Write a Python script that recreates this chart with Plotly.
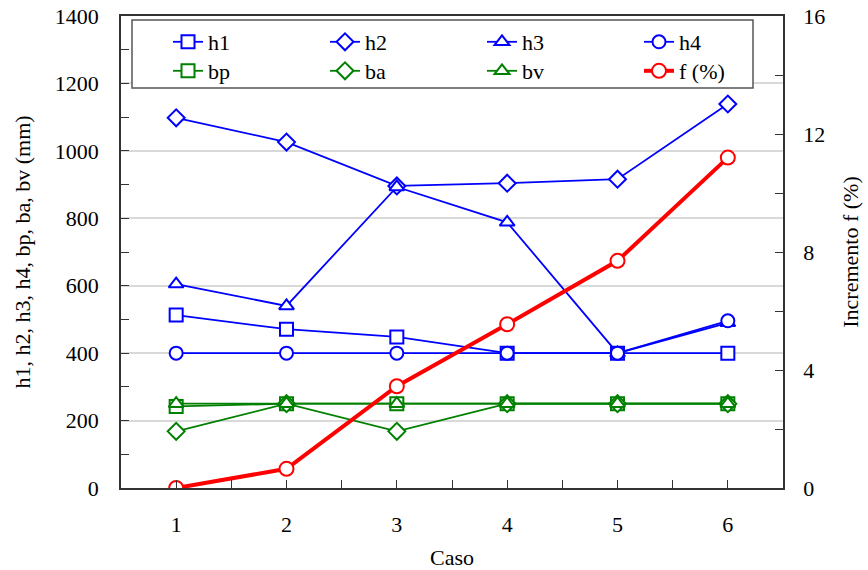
import plotly.graph_objects as go

cases = [1, 2, 3, 4, 5, 6]
h1 = [513, 471, 448, 400, 400, 400]
h2 = [1098, 1026, 896, 904, 916, 1139]
h3 = [605, 540, 893, 788, 400, 490]
h4 = [400, 400, 400, 400, 400, 496]
bp = [242, 250, 250, 250, 250, 250]
ba = [168, 250, 168, 250, 250, 250]
bv = [250, 250, 250, 250, 250, 250]
f_pct = [0, 0.65, 3.45, 5.55, 7.7, 11.2]

BLUE = "#0000ff"
GREEN = "#008000"
RED = "#ff0000"
FONT = "Times New Roman, Liberation Serif, DejaVu Serif, serif"
AX = "#333333"

series = [
    ("h1", h1, BLUE, "square", "legend"),
    ("h2", h2, BLUE, "diamond", "legend"),
    ("h3", h3, BLUE, "triangle-up", "legend"),
    ("h4", h4, BLUE, "circle", "legend"),
    ("bp", bp, GREEN, "square", "legend2"),
    ("ba", ba, GREEN, "diamond", "legend2"),
    ("bv", bv, GREEN, "triangle-up", "legend2"),
]

fig = go.Figure()
for name, vals, col, sym, leg in series:
    fig.add_trace(go.Scatter(
        x=cases, y=vals, name=name, mode="lines+markers",
        line=dict(color=col, width=1.8),
        marker=dict(symbol=sym, size=13, color="white", line=dict(color=col, width=2)),
        legend=leg, yaxis="y",
    ))
fig.add_trace(go.Scatter(
    x=cases, y=f_pct, name="f (%)", mode="lines+markers",
    line=dict(color=RED, width=4),
    marker=dict(symbol="circle", size=14, color="white", line=dict(color=RED, width=2)),
    legend="legend2", yaxis="y2",
))

W, H = 868, 570
L, R, T, B = 121, 85, 16, 82
pw, ph = W - L - R, H - T - B

def px(xp):
    return (xp - L) / pw

def py(yp):
    return (H - B - yp) / ph

fig.add_shape(type="rect", xref="paper", yref="paper",
              x0=px(132), x1=px(753), y0=py(88), y1=py(20),
              line=dict(color="#555555", width=1.5), fillcolor="white", layer="above")

legcommon = dict(orientation="h", bgcolor="rgba(0,0,0,0)", borderwidth=0,
                 font=dict(family=FONT, size=22, color="black"),
                 entrywidth=112, xanchor="left", yanchor="top", itemwidth=30)

tf = dict(family=FONT, size=22, color="black")

fig.update_layout(
    width=W, height=H,
    margin=dict(l=L, r=R, t=T, b=B, autoexpand=False),
    paper_bgcolor="white", plot_bgcolor="white",
    font=dict(family=FONT, size=22, color="black"),
    showlegend=True,
    legend=dict(x=px(168), y=py(21), **legcommon),
    legend2=dict(x=px(168), y=py(50), **legcommon),
    xaxis=dict(
        range=[0.5, 6.5], tickvals=cases, ticks="inside", ticklen=8, tickcolor=AX,
        minor=dict(tick0=0.5, dtick=0.5, ticks="inside", ticklen=8, tickcolor=AX),
        showline=True, linecolor=AX, linewidth=1.5, mirror=True,
        showgrid=False, zeroline=False, ticklabelstandoff=16, automargin=False,
        ticklabeloverflow="allow",
        title=dict(text="Caso", standoff=13, font=tf),
        tickfont=tf,
    ),
    yaxis=dict(
        range=[0, 1400], dtick=200, ticks="inside", ticklen=8, tickcolor=AX,
        minor=dict(dtick=100, ticks="inside", ticklen=8, tickcolor=AX),
        showline=True, linecolor=AX, linewidth=1.5,
        showgrid=True, gridcolor="#d9d9d9", gridwidth=1.5, zeroline=False,
        ticklabelstandoff=16, automargin=False, ticklabeloverflow="allow",
        title=dict(text="h1, h2, h3, h4, bp, ba, bv (mm)", standoff=18, font=tf),
        tickfont=tf,
    ),
    yaxis2=dict(
        range=[0, 16], dtick=4, ticks="inside", ticklen=8, tickcolor=AX,
        minor=dict(dtick=2, ticks="inside", ticklen=8, tickcolor=AX),
        overlaying="y", side="right",
        showline=True, linecolor=AX, linewidth=1.5,
        showgrid=False, zeroline=False, ticklabelstandoff=14, automargin=False,
        ticklabeloverflow="allow",
        title=dict(text="Incremento f (%)", standoff=18, font=tf),
        tickfont=tf,
    ),
)

fig.write_html("out.html", config={"displayModeBar": False},
               post_script="document.body.style.margin='0';")
